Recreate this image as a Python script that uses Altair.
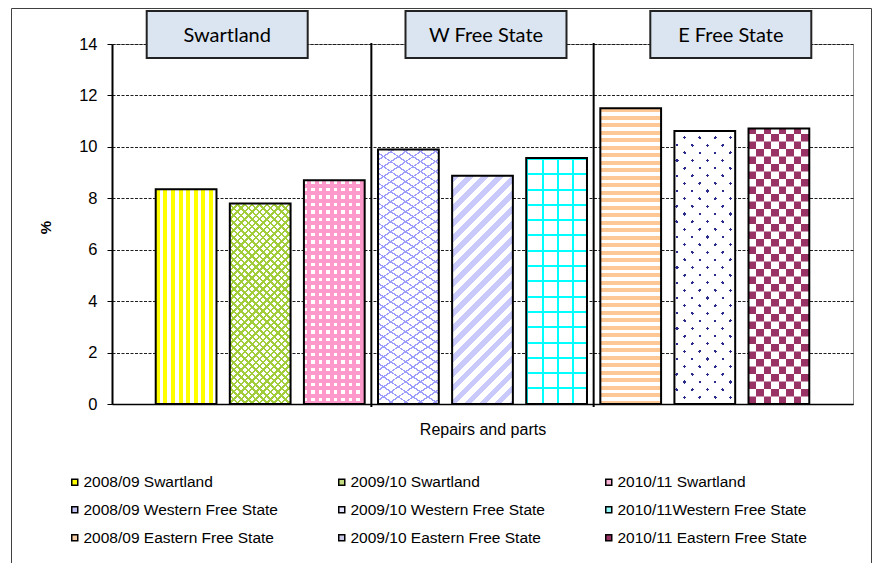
import math

import altair as alt
import pandas as pd

# ---------------------------------------------------------------- data ----
category = "Repairs and parts"
regions = ["Swartland", "W Free State", "E Free State"]
series = [
    "2008/09 Swartland",
    "2009/10 Swartland",
    "2010/11 Swartland",
    "2008/09 Western Free State",
    "2009/10 Western Free State",
    "2010/11Western Free State",
    "2008/09 Eastern Free State",
    "2009/10 Eastern Free State",
    "2010/11 Eastern Free State",
]
series_region = [regions[0]] * 3 + [regions[1]] * 3 + [regions[2]] * 3
repairs_pct = [8.35, 7.8, 8.7, 9.9, 8.88, 9.57, 11.5, 10.62, 10.71]

# -------------------------------------------------------------- layout ----
FONT = "Liberation Sans"
PLOT_W, PLOT_H = 741, 360
X_DOMAIN = [0, 10]
Y_DOMAIN = [0, 14]
PX_X = PLOT_W / (X_DOMAIN[1] - X_DOMAIN[0])
PX_Y = PLOT_H / (Y_DOMAIN[1] - Y_DOMAIN[0])
BAR_HALF = 0.41                      # half bar width, in slot units
BAR_W = 2 * BAR_HALF * PX_X          # bar width in pixels

# legend swatches (average tone of each fill pattern)
SWATCH = ["#ffff00", "#c3dc7e", "#f9b3d6", "#c3c3f5", "#e3e3fb",
          "#8ff7f7", "#f8cfa6", "#c9c9e6", "#993366"]

WHITE = "#ffffff"
CLEAR = "rgba(255,255,255,0)"
YEL, GREEN, PINK = "#ffff00", "#a2cd3a", "#fd9acb"
LAV, LAV2, CYAN = "#9d9dfb", "#c9c9fb", "#00ffff"
ORANGE, NAVY, MAROON = "#fdc896", "#2b2b8c", "#993366"
CHECK_PX = 7.5

# fill patterns: one entry per bar, each a stack of stripe layers
# (angle of the stripe normal in degrees, repeating [(width px, colour)])
PATTERNS = [
    [(0, [(4.0, YEL), (3.6, WHITE)])],
    [(45, [(1.8, GREEN), (3.4, WHITE)]), (-45, [(1.8, GREEN), (3.4, CLEAR)])],
    [(0, [(3.4, WHITE), (4.1, PINK)]), (90, [(3.4, CLEAR), (4.1, PINK)])],
    [(56, [(1.3, LAV), (7.0, WHITE)]), (-56, [(1.3, LAV), (7.0, CLEAR)])],
    [(45, [(5.2, LAV2), (5.4, WHITE)])],
    [(0, [(2.0, CYAN), (13.3, WHITE)]), (90, [(2.0, CYAN), (13.3, CLEAR)])],
    [(90, [(4.0, ORANGE), (3.5, WHITE)])],
    [(45, [(2.3, NAVY), (8.5, WHITE)]), (-45, [(2.3, CLEAR), (8.5, WHITE)])],
    [(0, [(CHECK_PX, MAROON), (CHECK_PX, WHITE)])],
]


def stripes(w, h, angle, bands):
    """Linear gradient with hard stops that paints repeating stripes on a
    w x h pixel box, the stripes running perpendicular to `angle`."""
    dx = math.cos(math.radians(angle))
    dy = math.sin(math.radians(angle))
    dx = 0.0 if abs(dx) < 1e-9 else dx
    dy = 0.0 if abs(dy) < 1e-9 else dy
    span = w * abs(dx) + h * abs(dy)
    c = span / ((w * dx) ** 2 + (h * dy) ** 2)
    x1 = 0.0 if dx >= 0 else 1.0
    y1 = 0.0 if dy >= 0 else 1.0
    stops, s, k = [], 0.0, 0
    while s < span - 1e-6:
        length, colour = bands[k % len(bands)]
        end = min(s + length, span)
        stops.append({"offset": round(s / span, 6), "color": colour})
        stops.append({"offset": round(end / span, 6), "color": colour})
        s, k = end, k + 1
    return {"gradient": "linear", "x1": x1, "y1": y1,
            "x2": round(x1 + c * w * dx, 6), "y2": round(y1 + c * h * dy, 6),
            "stops": stops}


# ------------------------------------------------------------- tables ----
df = pd.DataFrame({"series": series, "region": series_region, "value": repairs_pct})
df["slot"] = range(1, len(df) + 1)
df["x0"] = df["slot"] - BAR_HALF
df["x1"] = df["slot"] + BAR_HALF

last_slot = df.groupby("region", sort=False)["slot"].max()
seps = pd.DataFrame({"sep": (last_slot.iloc[:-1] + 0.5).tolist()})

HEADER_NUDGE_PX = {"Swartland": -33, "W Free State": 3.5, "E Free State": 26}
HEADER_HALF_PX = 80.5
centre = df.groupby("region", sort=False)["slot"].mean()
hdr = pd.DataFrame({
    "label": list(centre.index),
    "hc": [c + HEADER_NUDGE_PX[r] / PX_X for r, c in centre.items()],
})
hdr["hx0"] = hdr["hc"] - HEADER_HALF_PX / PX_X
hdr["hx1"] = hdr["hc"] + HEADER_HALF_PX / PX_X

# alternate rows of the chequered bar, painted with the inverse stripes
chk = df.iloc[8]
cell = CHECK_PX / PX_Y
n_rows = math.ceil(chk["value"] / cell)
rows = pd.DataFrame({"r": list(range(1, n_rows, 2))})
rows["y0"] = rows["r"] * cell
rows["y1"] = ((rows["r"] + 1) * cell).clip(upper=chk["value"])
rows["x0"] = chk["x0"]
rows["x1"] = chk["x1"]

# ---------------------------------------------------------- encodings ----
XS = alt.Scale(domain=X_DOMAIN, nice=False, zero=False)
YS = alt.Scale(domain=Y_DOMAIN, nice=False)
x_axis = alt.Axis(
    title=category, labels=False, ticks=False, grid=False,
    domainColor="black", domainWidth=1.5,
    titleFont=FONT, titleFontSize=16, titleFontWeight="normal", titleColor="black",
    titleY=30, titleBaseline="alphabetic",
)
y_axis = alt.Axis(
    title="%", values=list(range(0, 15, 2)),
    grid=True, gridDash=[3, 1.5], gridColor="#1e1e1e", gridWidth=1,
    domainColor="black", domainWidth=2,
    tickColor="black", tickSize=5, tickWidth=1,
    labelFont=FONT, labelFontSize=16.5, labelColor="black", labelPadding=10,
    titleFont=FONT, titleFontSize=15, titleFontWeight="bold", titleColor="black",
    titleAngle=270, titleX=-67, titleY=183, titleAlign="center", titleBaseline="middle",
)


def X(f):
    return alt.X(f"{f}:Q", scale=XS, axis=x_axis)


def Y(f):
    return alt.Y(f"{f}:Q", scale=YS, axis=y_axis)


ZERO = alt.datum(0)

legend = alt.Legend(
    title=None, orient="none", direction="horizontal", legendX=-45, legendY=430,
    columns=3, symbolType="square", symbolSize=36, symbolStrokeColor="black",
    symbolStrokeWidth=1.5, symbolOpacity=1,
    labelFont=FONT, labelFontSize=15.5, labelColor="black", labelOffset=1,
    labelLimit=400, columnPadding=56, rowPadding=11, gridAlign="all", padding=0,
)

# --------------------------------------------------------------- marks ----
frame = alt.Chart(alt.Data(values=[{}])).mark_rect(
    fill="transparent", stroke="#404040", strokeWidth=1
).encode(x=alt.value(-100.5), x2=alt.value(759.5), y=alt.value(-35.5), y2=alt.value(540))

base = alt.Chart(df).mark_bar().encode(
    x=X("x0"), x2="x1", y=Y("value"), y2=ZERO,
    color=alt.Color("series:N", scale=alt.Scale(domain=series, range=SWATCH), legend=legend),
)

layers = [frame, base]
for i, name in enumerate(series):
    h = repairs_pct[i] * PX_Y
    for angle, bands in PATTERNS[i]:
        layers.append(
            alt.Chart(df).transform_filter(alt.datum.series == name)
            .mark_bar(fill=stripes(BAR_W, h, angle, bands))
            .encode(x=X("x0"), x2="x1", y=Y("value"), y2=ZERO)
        )

inverse = [(CHECK_PX, WHITE), (CHECK_PX, MAROON)]
layers.append(
    alt.Chart(rows).mark_bar(fill=stripes(BAR_W, CHECK_PX, 0, inverse))
    .encode(x=X("x0"), x2="x1", y=Y("y0"), y2="y1")
)

outline = alt.Chart(df).mark_bar(fill="transparent", stroke="black", strokeWidth=2).encode(
    x=X("x0"), x2="x1", y=Y("value"), y2=ZERO
)

separators = alt.Chart(seps).mark_rule(color="black", strokeWidth=2).encode(
    x=X("sep"), y=alt.value(-1), y2=alt.value(363)
)

header_box = alt.Chart(hdr).mark_rect(fill="#dbe5f1", stroke="#222222", strokeWidth=2).encode(
    x=X("hx0"), x2="hx1", y=alt.value(-33), y2=alt.value(14)
)
header_text = alt.Chart(hdr).mark_text(
    font="Lato", fontSize=20, color="black", align="center", baseline="middle"
).encode(x=X("hc"), y=alt.value(-8), text="label:N")

layers += [outline, separators, header_box, header_text]

chart = (
    alt.layer(*layers)
    .properties(
        width=PLOT_W, height=PLOT_H,
        autosize=alt.AutoSizeParams(type="none"),
        padding={"left": 112, "top": 44, "right": 25, "bottom": 159},
    )
    .configure(background="white")
    .configure_view(stroke="#8c8c8c", strokeWidth=1)
)

chart.save("out.html", embed_options={"renderer": "svg", "actions": False})
